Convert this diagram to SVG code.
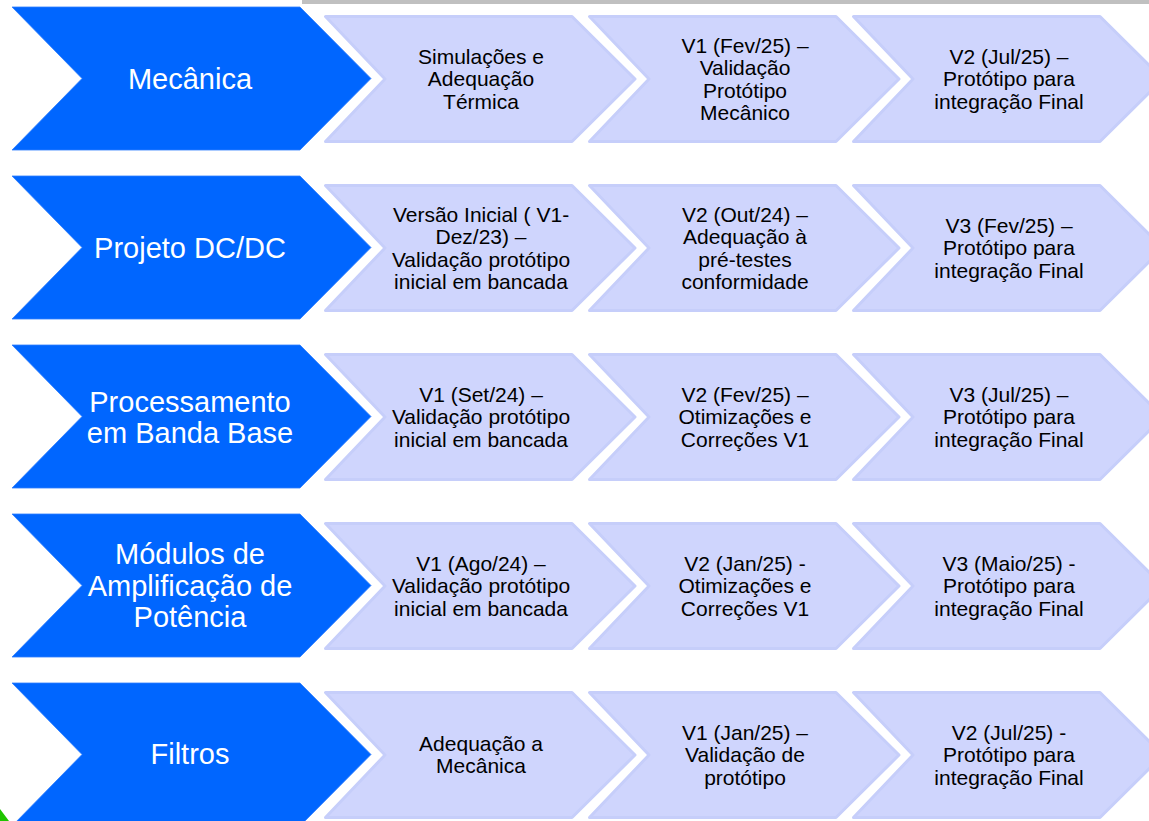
<svg xmlns="http://www.w3.org/2000/svg" xmlns:xlink="http://www.w3.org/1999/xlink" width="1149" height="821" viewBox="0 0 1149 821">
  <style>
    .area { fill: #0066ff; stroke: #2f7dff; stroke-width: 0.8; }
    .step { fill: #cfd5fd; stroke: #c6cefa; stroke-width: 3; stroke-linejoin: round; }
    .area-label { font-family: "Liberation Sans", Arial, sans-serif; font-size: 29px; fill: #ffffff; text-anchor: middle; }
    .step-label { font-family: "Liberation Sans", Arial, sans-serif; font-size: 21px; fill: #000000; text-anchor: middle; }
  </style>
  <defs>
    <!-- big blue chevron, local origin at its top-left corner -->
    <path id="area-shape" d="M0,0 H288 L359,71.5 L288,143 H0 L70,71.5 Z"/>
    <!-- pale stage chevron, local origin at its top-left corner -->
    <path id="step-shape" d="M1.5,1.5 H248 L311,64 L248,126.5 H1.5 L61,64 Z"/>
  </defs>

  <rect x="0" y="0" width="1149" height="821" fill="#ffffff"/>
  <!-- window strip along the top edge -->
  <rect x="302" y="0" width="847" height="4" fill="#c0c0c0"/>

  <!-- Row 1 -->
  <g id="row-mecanica">
    <g id="mecanica">
      <use xlink:href="#area-shape" class="area" transform="translate(12,7)"/>
      <text class="area-label" x="190" y="89">Mecânica</text>
    </g>
    <g id="mecanica-1">
      <use xlink:href="#step-shape" class="step" transform="translate(324,15)"/>
      <text class="step-label" x="481" y="63.5"><tspan x="481">Simulações e</tspan><tspan x="481" dy="22.5">Adequação</tspan><tspan x="481" dy="22.5">Térmica</tspan></text>
    </g>
    <g id="mecanica-2">
      <use xlink:href="#step-shape" class="step" transform="translate(588,15)"/>
      <text class="step-label" x="745" y="52.5"><tspan x="745">V1 (Fev/25) –</tspan><tspan x="745" dy="22.5">Validação</tspan><tspan x="745" dy="22.5">Protótipo</tspan><tspan x="745" dy="22.5">Mecânico</tspan></text>
    </g>
    <g id="mecanica-3">
      <use xlink:href="#step-shape" class="step" transform="translate(852,15)"/>
      <text class="step-label" x="1009" y="63.5"><tspan x="1009">V2 (Jul/25) –</tspan><tspan x="1009" dy="22.5">Protótipo para</tspan><tspan x="1009" dy="22.5">integração Final</tspan></text>
    </g>
  </g>

  <!-- Row 2 -->
  <g id="row-dcdc">
    <g id="dcdc">
      <use xlink:href="#area-shape" class="area" transform="translate(12,176)"/>
      <text class="area-label" x="190" y="258">Projeto DC/DC</text>
    </g>
    <g id="dcdc-1">
      <use xlink:href="#step-shape" class="step" transform="translate(324,184)"/>
      <text class="step-label" x="481" y="221.5"><tspan x="481">Versão Inicial ( V1-</tspan><tspan x="481" dy="22.5">Dez/23) –</tspan><tspan x="481" dy="22.5">Validação protótipo</tspan><tspan x="481" dy="22.5">inicial em bancada</tspan></text>
    </g>
    <g id="dcdc-2">
      <use xlink:href="#step-shape" class="step" transform="translate(588,184)"/>
      <text class="step-label" x="745" y="221.5"><tspan x="745">V2 (Out/24) –</tspan><tspan x="745" dy="22.5">Adequação à</tspan><tspan x="745" dy="22.5">pré-testes</tspan><tspan x="745" dy="22.5">conformidade</tspan></text>
    </g>
    <g id="dcdc-3">
      <use xlink:href="#step-shape" class="step" transform="translate(852,184)"/>
      <text class="step-label" x="1009" y="232.5"><tspan x="1009">V3 (Fev/25) –</tspan><tspan x="1009" dy="22.5">Protótipo para</tspan><tspan x="1009" dy="22.5">integração Final</tspan></text>
    </g>
  </g>

  <!-- Row 3 -->
  <g id="row-banda-base">
    <g id="banda-base">
      <use xlink:href="#area-shape" class="area" transform="translate(12,345)"/>
      <text class="area-label" x="190" y="411.5"><tspan x="190">Processamento</tspan><tspan x="190" dy="31">em Banda Base</tspan></text>
    </g>
    <g id="banda-base-1">
      <use xlink:href="#step-shape" class="step" transform="translate(324,353)"/>
      <text class="step-label" x="481" y="401.5"><tspan x="481">V1 (Set/24) –</tspan><tspan x="481" dy="22.5">Validação protótipo</tspan><tspan x="481" dy="22.5">inicial em bancada</tspan></text>
    </g>
    <g id="banda-base-2">
      <use xlink:href="#step-shape" class="step" transform="translate(588,353)"/>
      <text class="step-label" x="745" y="401.5"><tspan x="745">V2 (Fev/25) –</tspan><tspan x="745" dy="22.5">Otimizações e</tspan><tspan x="745" dy="22.5">Correções V1</tspan></text>
    </g>
    <g id="banda-base-3">
      <use xlink:href="#step-shape" class="step" transform="translate(852,353)"/>
      <text class="step-label" x="1009" y="401.5"><tspan x="1009">V3 (Jul/25) –</tspan><tspan x="1009" dy="22.5">Protótipo para</tspan><tspan x="1009" dy="22.5">integração Final</tspan></text>
    </g>
  </g>

  <!-- Row 4 -->
  <g id="row-amplificacao">
    <g id="amplificacao">
      <use xlink:href="#area-shape" class="area" transform="translate(12,514)"/>
      <text class="area-label" x="190" y="564"><tspan x="190">Módulos de</tspan><tspan x="190" dy="31.5">Amplificação de</tspan><tspan x="190" dy="31.5">Potência</tspan></text>
    </g>
    <g id="amplificacao-1">
      <use xlink:href="#step-shape" class="step" transform="translate(324,522)"/>
      <text class="step-label" x="481" y="570.5"><tspan x="481">V1 (Ago/24) –</tspan><tspan x="481" dy="22.5">Validação protótipo</tspan><tspan x="481" dy="22.5">inicial em bancada</tspan></text>
    </g>
    <g id="amplificacao-2">
      <use xlink:href="#step-shape" class="step" transform="translate(588,522)"/>
      <text class="step-label" x="745" y="570.5"><tspan x="745">V2 (Jan/25) -</tspan><tspan x="745" dy="22.5">Otimizações e</tspan><tspan x="745" dy="22.5">Correções V1</tspan></text>
    </g>
    <g id="amplificacao-3">
      <use xlink:href="#step-shape" class="step" transform="translate(852,522)"/>
      <text class="step-label" x="1009" y="570.5"><tspan x="1009">V3 (Maio/25) -</tspan><tspan x="1009" dy="22.5">Protótipo para</tspan><tspan x="1009" dy="22.5">integração Final</tspan></text>
    </g>
  </g>

  <!-- Row 5 -->
  <g id="row-filtros">
    <g id="filtros">
      <use xlink:href="#area-shape" class="area" transform="translate(12,683)"/>
      <text class="area-label" x="190" y="764">Filtros</text>
    </g>
    <g id="filtros-1">
      <use xlink:href="#step-shape" class="step" transform="translate(324,691)"/>
      <text class="step-label" x="481" y="750.5"><tspan x="481">Adequação a</tspan><tspan x="481" dy="22.5">Mecânica</tspan></text>
    </g>
    <g id="filtros-2">
      <use xlink:href="#step-shape" class="step" transform="translate(588,691)"/>
      <text class="step-label" x="745" y="739.5"><tspan x="745">V1 (Jan/25) –</tspan><tspan x="745" dy="22.5">Validação de</tspan><tspan x="745" dy="22.5">protótipo</tspan></text>
    </g>
    <g id="filtros-3">
      <use xlink:href="#step-shape" class="step" transform="translate(852,691)"/>
      <text class="step-label" x="1009" y="739.5"><tspan x="1009">V2 (Jul/25) -</tspan><tspan x="1009" dy="22.5">Protótipo para</tspan><tspan x="1009" dy="22.5">integração Final</tspan></text>
    </g>
  </g>

  <!-- small green corner mark -->
  <polygon points="0,809 9,821 0,821" fill="#1fc400"/>
</svg>
